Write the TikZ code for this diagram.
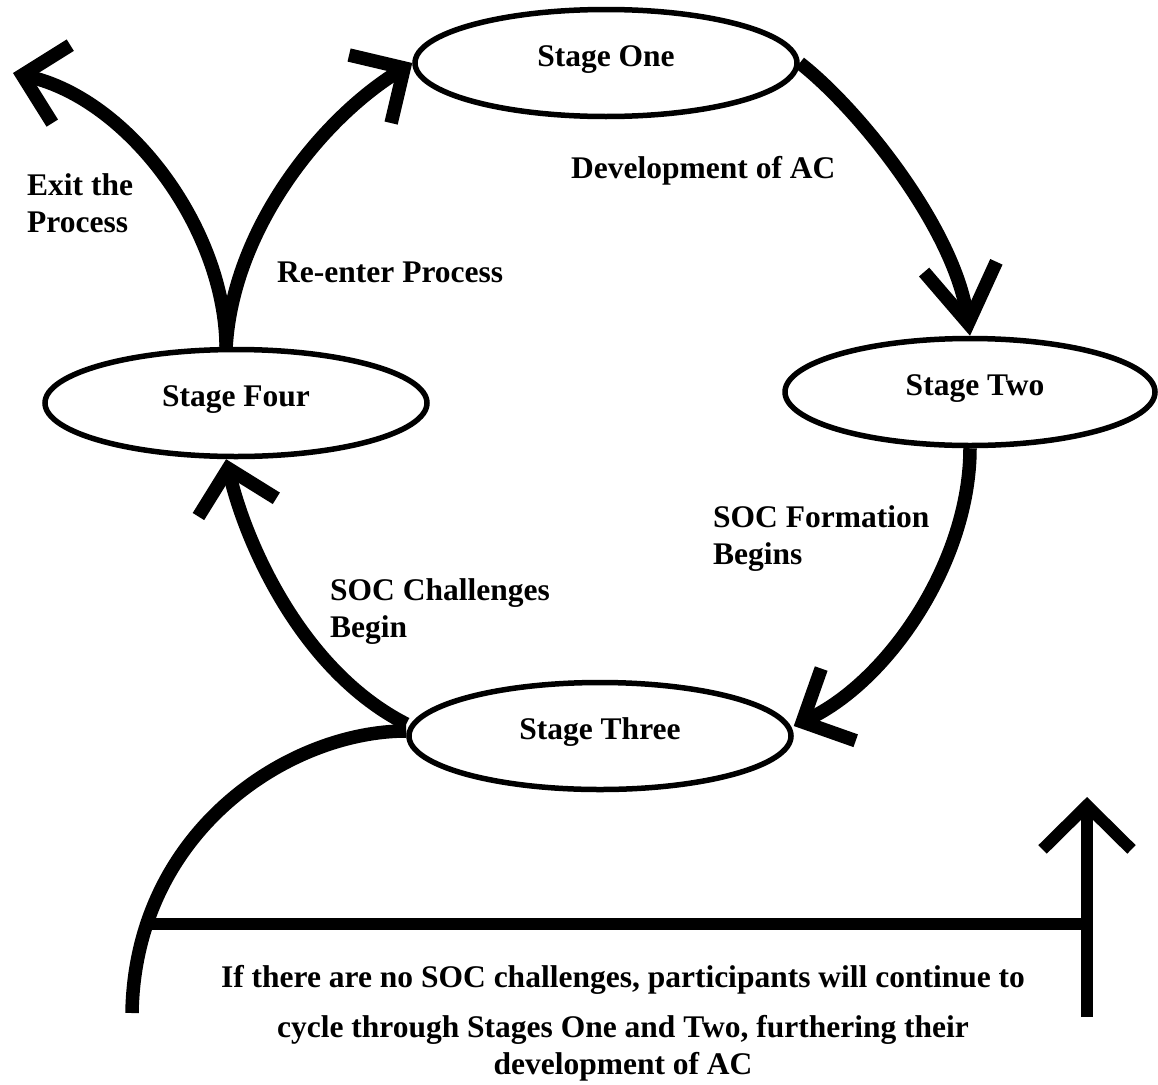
\documentclass[tikz,border=0pt]{standalone}
\usepackage{fontspec}
\setmainfont{Liberation Serif}
\usetikzlibrary{shapes.geometric,arrows.meta}
\begin{document}
\begin{tikzpicture}[x=1pt,y=-1pt,
  txt/.style={font=\fontsize{31.5}{37}\selectfont\bfseries, inner sep=0pt},
  stage/.style={txt, draw, ellipse, line width=5.5pt, minimum width=382pt,
    minimum height=107pt, text height=22pt, text depth=16pt},
  conn/.style={line width=13.5pt, line cap=butt},
  barb/.style={-{Straight Barb[length=40pt,width=80pt,sharp]}},
  barbnarrow/.style={-{Straight Barb[length=57pt,width=73pt,sharp]}},
  barbtall/.style={-{Straight Barb[length=44pt,width=89pt,sharp]}},
  lbl/.style={txt, anchor=base west}
]
\useasboundingbox (0,0) rectangle (1158,1084);

% the four stages
\node[stage] (s1) at (606,63) {Stage One};
\node[stage, minimum width=370pt] (s2) at (970,392) {\hspace*{10pt}Stage Two};
\node[stage] (s3) at (600,736) {Stage Three};
\node[stage] (s4) at (236,403) {Stage Four};

% free ends
\coordinate (exitTip) at (13,73);
\coordinate (arcEnd) at (132,1013);
\coordinate (hl) at (152,924);
\coordinate (hr) at (1081,924);
\coordinate (vb) at (1087,1017);
\coordinate (vt) at (1087,797);

% cycle arrows
\draw[conn, barbnarrow] (s1.east) .. controls (860,110) and (955,230) .. (s2.north);
\draw[conn, barb] (s2.south) .. controls (970,560) and (890,680) .. ([yshift=10pt]s3.east);
\draw[conn, barb] ([yshift=12pt]s3.west) .. controls (300,670) and (245,540) .. (s4.260);
\draw[conn, barb] (s4.100) .. controls (233,230) and (320,120) .. (s1.west);
\draw[conn, barb] (s4.100) .. controls (225,230) and (130,100) .. (exitTip);

% loop back when there are no challenges
\draw[conn] ([yshift=5pt]s3.west) .. controls (290,731) and (135,830) .. (arcEnd);
\draw[line width=12.5pt] (hl) -- (hr);
\draw[line width=12pt, barbtall] (vb) -- (vt);

% labels
\node[lbl] (lDev) at (571,178) {Development of AC};
\node[lbl] (lExit) at (27,195) {\begin{tabular}[t]{@{}l@{}}Exit the\\Process\end{tabular}};
\node[lbl] (lRe) at (277,282) {Re-enter Process};
\node[lbl] (lForm) at (713,527) {\begin{tabular}[t]{@{}l@{}}SOC Formation\\Begins\end{tabular}};
\node[lbl] (lChal) at (330,600) {\begin{tabular}[t]{@{}l@{}}SOC Challenges\\Begin\end{tabular}};
\node[txt, anchor=base] (lNote) at (623,987) {\begin{tabular}[t]{@{}c@{}}If there are no SOC challenges, participants will continue to\\[13pt]cycle through Stages One and Two, furthering their\\development of AC\end{tabular}};
\end{tikzpicture}
\end{document}
